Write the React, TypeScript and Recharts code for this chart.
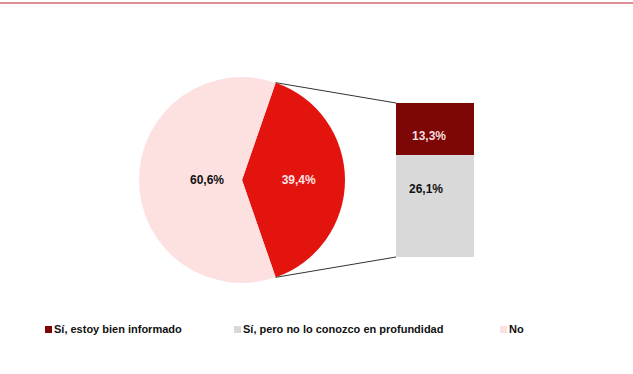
import React from 'react';
import { PieChart, Pie, Cell, BarChart, Bar, XAxis, YAxis } from 'recharts';

// pie: informed vs not
const pieCategories = ['Sí', 'No'];
const pieValues = [39.4, 60.6];
const pieColors = ['#e3130e', '#fde1e1'];

// bar: breakdown of "Sí"
const barCategories = ['Sí, pero no lo conozco en profundidad', 'Sí, estoy bien informado'];
const barValues = [26.1, 13.3];
const barColors = ['#d9d9d9', '#7d0707'];

const legendLabels = ['Sí, estoy bien informado', 'Sí, pero no lo conozco en profundidad', 'No'];
const legendColors = ['#7d0707', '#d9d9d9', '#fde1e1'];

const W = 633;
const H = 374;
const PIE_CX = 242;
const PIE_CY = 180;
const PIE_R = 103;
const FONT = '"Liberation Sans", Arial, sans-serif';

const fmt = (v: number) => v.toFixed(1).replace('.', ',') + '%';

const halfAngle = (pieValues[0] / (pieValues[0] + pieValues[1])) * 180;
const rad = (halfAngle * Math.PI) / 180;
const tipTop = { x: PIE_CX + PIE_R * Math.cos(rad), y: PIE_CY - PIE_R * Math.sin(rad) };
const tipBottom = { x: PIE_CX + PIE_R * Math.cos(rad), y: PIE_CY + PIE_R * Math.sin(rad) };

const barRow = [{ name: 'Sí', low: barValues[0], high: barValues[1] }];

const pieLabel = (props: any) => {
  const { cx, cy, midAngle, outerRadius, index, value } = props;
  const k = index === 0 ? 0.55 : 0.34;
  const a = (-midAngle * Math.PI) / 180;
  const x = cx + outerRadius * k * Math.cos(a);
  const y = cy + outerRadius * k * Math.sin(a);
  return (
    <text x={x} y={y} textAnchor="middle" dominantBaseline="central"
      fontFamily={FONT} fontSize={12} fontWeight="bold" fill={index === 0 ? '#fbe4e4' : '#111'}>
      {fmt(value)}
    </text>
  );
};

const LowShape = (props: any) => {
  const { x, y, width, height } = props;
  return (
    <g>
      <rect x={x} y={y} width={width} height={height} fill={barColors[0]} />
      <line x1={tipBottom.x} y1={tipBottom.y} x2={x} y2={y + height} stroke="#333" strokeWidth={1} />
      <text x={x + width / 2 - 9} y={y + height * 0.33} textAnchor="middle" dominantBaseline="central"
        fontFamily={FONT} fontSize={12} fontWeight="bold" fill="#111">
        {fmt(barValues[0])}
      </text>
    </g>
  );
};

const HighShape = (props: any) => {
  const { x, y, width, height } = props;
  return (
    <g>
      <rect x={x} y={y} width={width} height={height} fill={barColors[1]} />
      <line x1={tipTop.x} y1={tipTop.y} x2={x} y2={y} stroke="#333" strokeWidth={1} />
      <text x={x + width / 2 - 6} y={y + height * 0.64} textAnchor="middle" dominantBaseline="central"
        fontFamily={FONT} fontSize={12} fontWeight="bold" fill="#f3dede">
        {fmt(barValues[1])}
      </text>
    </g>
  );
};

const legendX = [45, 234, 500];

export default function App() {
  return (
    <div style={{ position: 'absolute', left: 0, top: 0, width: W, height: H, background: '#fff', fontFamily: FONT }}>
      <div style={{ position: 'absolute', left: 0, top: 2, width: W, height: 2, background: '#dc8f96' }} />
      <div style={{ position: 'absolute', left: 0, top: 0 }}>
        <PieChart width={W} height={H} margin={{ top: 0, right: 0, bottom: 0, left: 0 }}>
          <Pie
            data={pieCategories.map((c, i) => ({ name: c, value: pieValues[i] }))}
            dataKey="value"
            cx={PIE_CX}
            cy={PIE_CY}
            outerRadius={PIE_R}
            startAngle={halfAngle}
            endAngle={halfAngle - 360}
            stroke="none"
            label={pieLabel}
            labelLine={false}
            isAnimationActive={false}
          >
            {pieCategories.map((c, i) => (
              <Cell key={c} fill={pieColors[i]} />
            ))}
          </Pie>
        </PieChart>
      </div>
      <div style={{ position: 'absolute', left: 0, top: 0 }}>
        <BarChart width={W} height={H} data={barRow}
          margin={{ top: 103, right: 159, bottom: 117, left: 396 }} barCategoryGap={0}>
          <XAxis dataKey="name" hide />
          <YAxis hide domain={[0, barValues[0] + barValues[1]]} />
          <Bar dataKey="low" name={barCategories[0]} stackId="s" shape={LowShape} isAnimationActive={false} />
          <Bar dataKey="high" name={barCategories[1]} stackId="s" shape={HighShape} isAnimationActive={false} />
        </BarChart>
      </div>
      {legendLabels.map((l, i) => (
        <div key={l} style={{ position: 'absolute', left: legendX[i], top: 323, display: 'flex', alignItems: 'center',
          fontSize: 11, fontWeight: 'bold', color: '#111', whiteSpace: 'nowrap' }}>
          <span style={{ display: 'inline-block', width: 7, height: 7, background: legendColors[i], marginRight: 2 }} />
          {l}
        </div>
      ))}
    </div>
  );
}
